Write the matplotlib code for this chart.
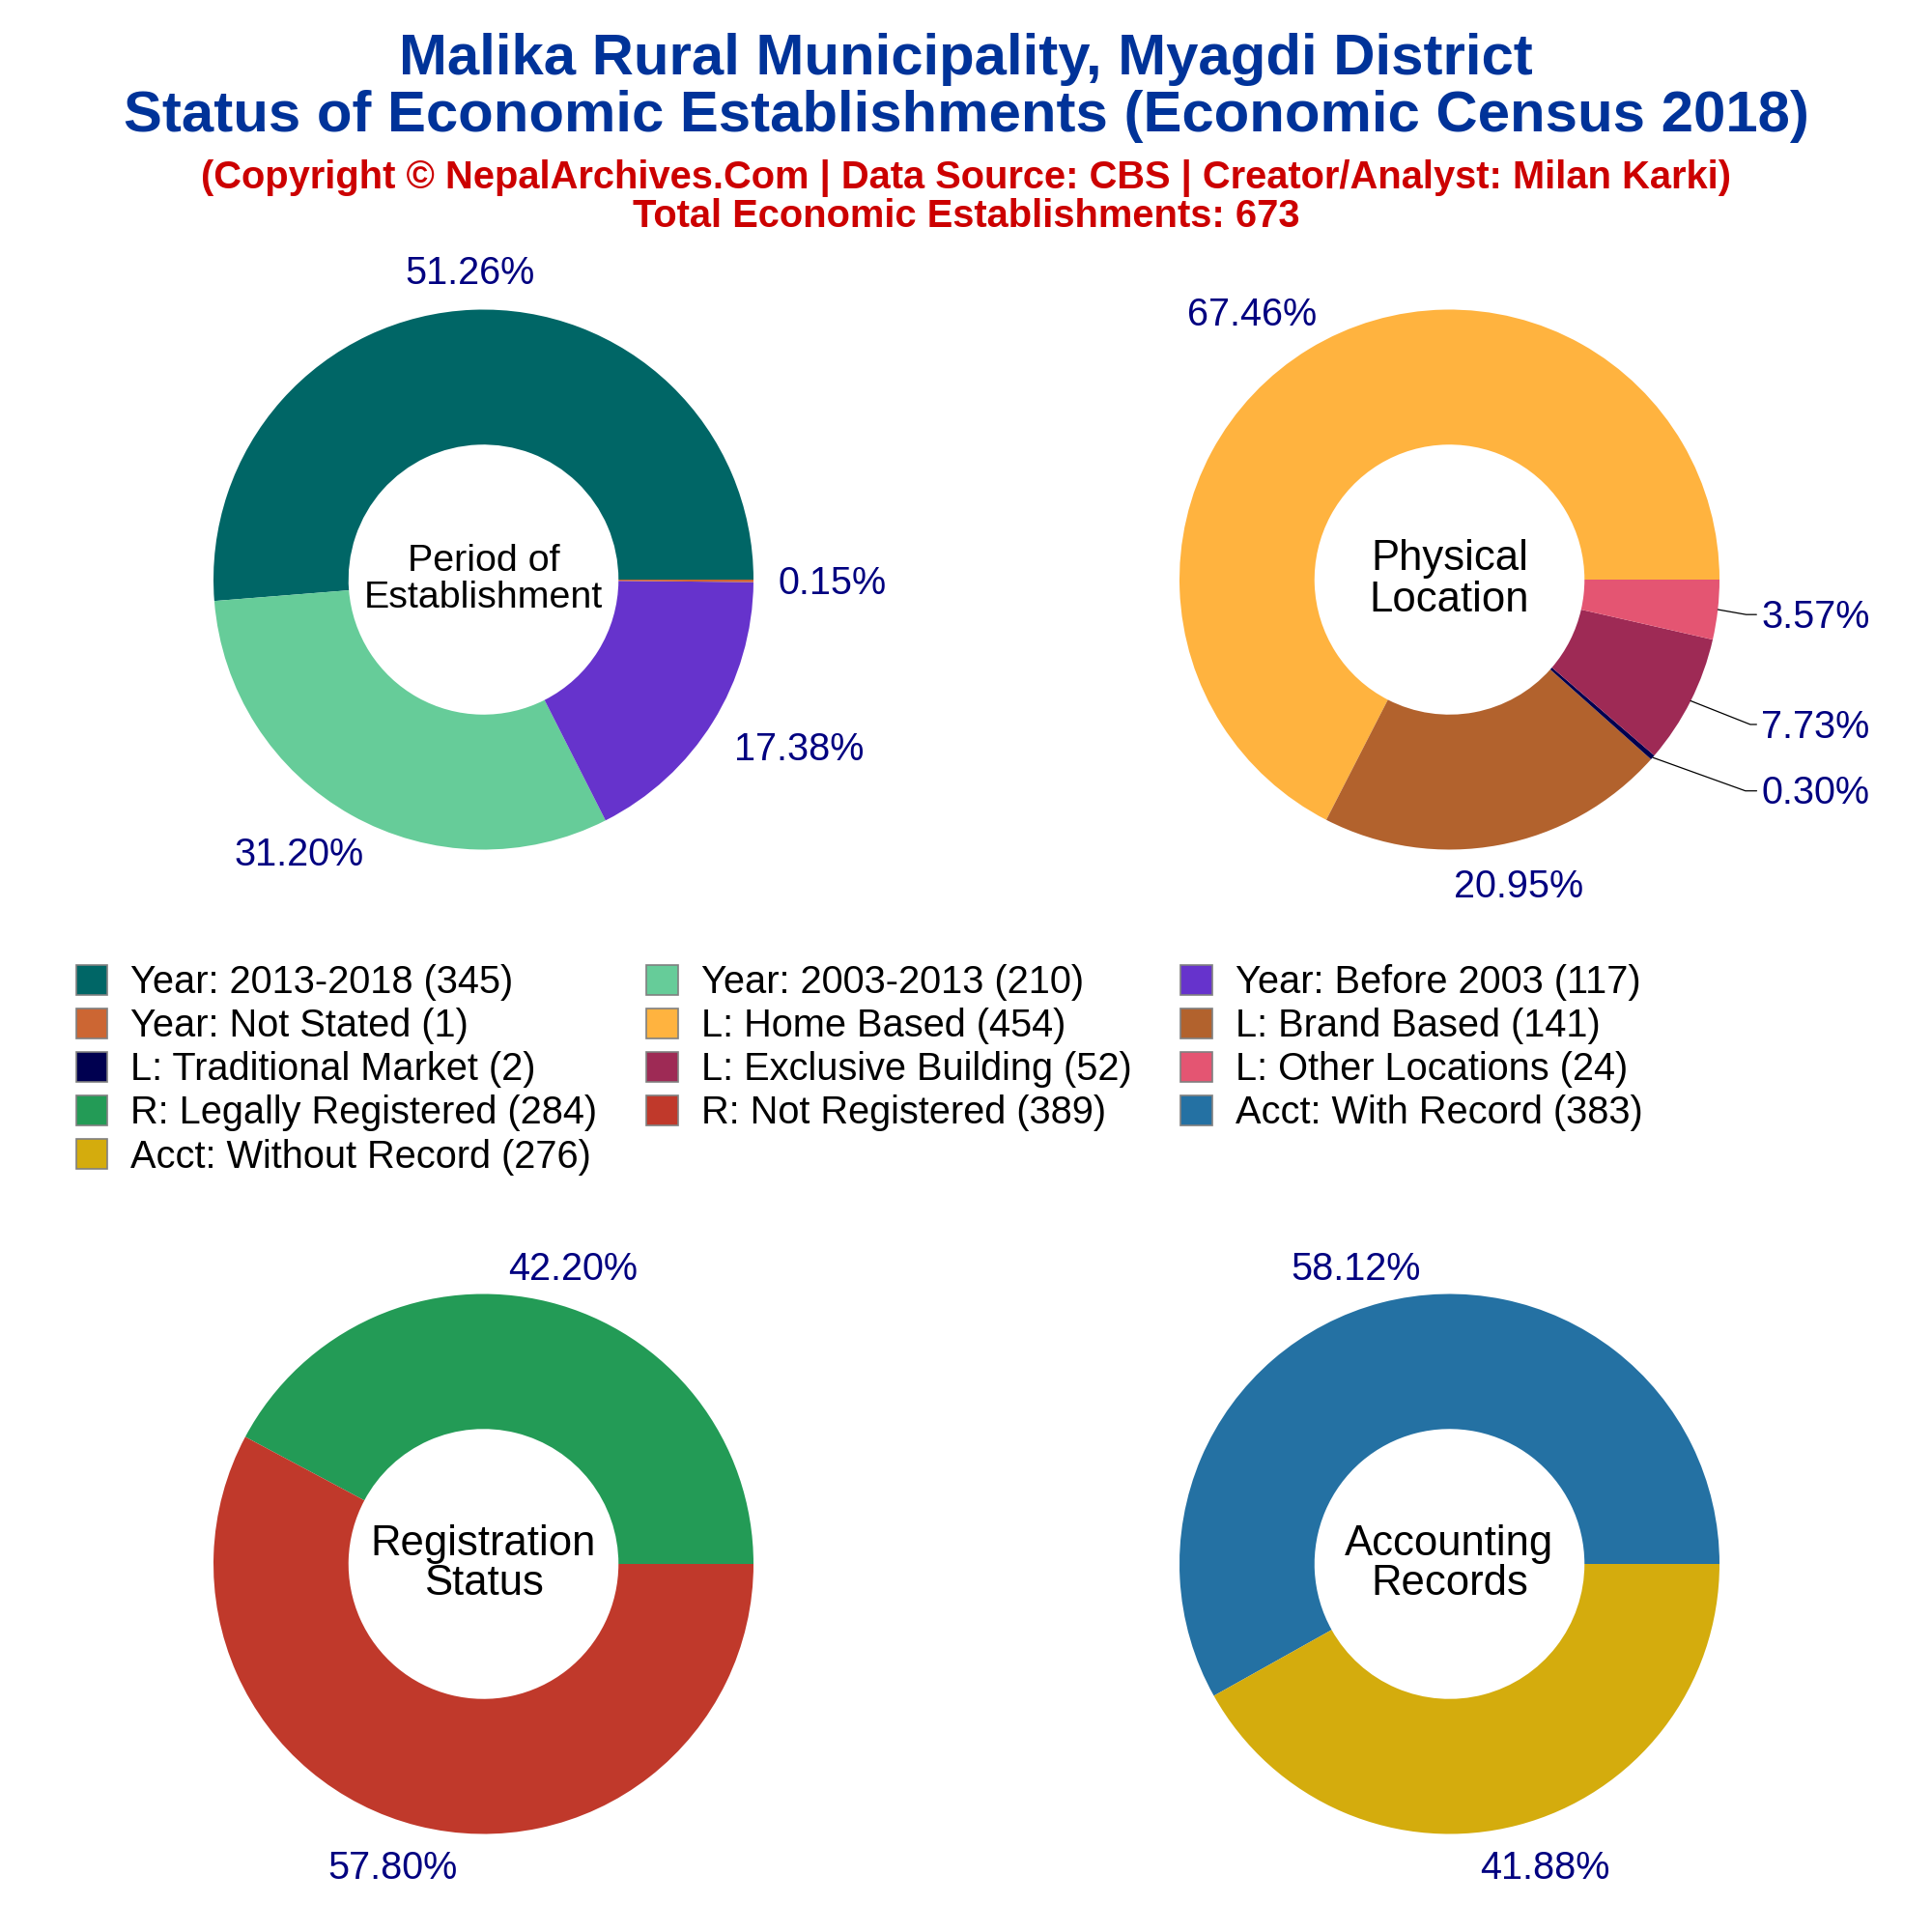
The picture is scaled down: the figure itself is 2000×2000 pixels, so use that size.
import matplotlib
matplotlib.use("Agg")
import matplotlib.pyplot as plt
from matplotlib.patches import Patch

plt.rcParams['font.family'] = ['Liberation Sans', 'DejaVu Sans']

title_text = "Malika Rural Municipality, Myagdi District\nStatus of Economic Establishments (Economic Census 2018)"
sub_text = "(Copyright © NepalArchives.Com | Data Source: CBS | Creator/Analyst: Milan Karki)\nTotal Economic Establishments: 673"

period_labels = ["Year: 2013-2018", "Year: 2003-2013", "Year: Before 2003", "Year: Not Stated"]
period_vals = [345, 210, 117, 1]
period_cols = ["#006666", "#66CC99", "#6633CC", "#CC6633"]

loc_labels = ["L: Home Based", "L: Brand Based", "L: Traditional Market", "L: Exclusive Building", "L: Other Locations"]
loc_vals = [454, 141, 2, 52, 24]
loc_cols = ["#FFB33F", "#B2622D", "#000050", "#9E2A55", "#E45572"]

reg_labels = ["R: Legally Registered", "R: Not Registered"]
reg_vals = [284, 389]
reg_cols = ["#239B56", "#C0392B"]

acct_labels = ["Acct: With Record", "Acct: Without Record"]
acct_vals = [383, 276]
acct_cols = ["#2471A3", "#D4AC0D"]

PCT_COLOR = "#000080"
PCT_SIZE = 14.25
R_PX = 279.5

fig = plt.figure(figsize=(10, 10), dpi=200)
fig.patch.set_facecolor("white")


def donut(cx, cy, vals, cols, centre, centre_size, spacing, pct_pos, leaders=None):
    # cx, cy is the centre in figure pixels from the top left
    rect = [(cx - R_PX) / 2000, 1 - (cy + R_PX) / 2000, 2 * R_PX / 2000, 2 * R_PX / 2000]
    ax = fig.add_axes(rect)
    ax.pie(vals, colors=cols, startangle=0, radius=1.0, wedgeprops=dict(width=0.5))
    ax.set_xlim(-1, 1)
    ax.set_ylim(-1, 1)
    ax.text(0, 0, centre, ha='center', va='center', fontsize=centre_size,
            color='black', linespacing=spacing)
    total = sum(vals)
    for i, (v, pos) in enumerate(zip(vals, pct_pos)):
        txt = "%.2f%%" % (100 * v / total)
        if leaders and i in leaders:
            xy, ang = leaders[i]
            # leader leaves the text at the middle of its digits, with an elbow
            ax.annotate(txt, xy=xy, xytext=pos, ha='center', va='center', fontsize=PCT_SIZE,
                        color=PCT_COLOR, annotation_clip=False,
                        arrowprops=dict(arrowstyle='-', color='black', lw=0.45, patchA=None,
                                        relpos=(0, 0.57), shrinkA=1.8, shrinkB=0,
                                        connectionstyle="angle,angleA=0,angleB=%g,rad=0" % ang))
        else:
            ax.text(pos[0], pos[1], txt, ha='center', va='center', fontsize=PCT_SIZE,
                    color=PCT_COLOR, clip_on=False)


donut(500.5, 600, period_vals, period_cols, "Period of\nEstablishment", 14.2, 1.05,
      [(-0.05, 1.133), (-0.685, -1.021), (1.169, -0.628), (1.292, -0.016)])
donut(1500.5, 600, loc_vals, loc_cols, "Physical\nLocation", 15.7, 1.04,
      [(-0.731, 0.979), (0.256, -1.139), (1.356, -0.792), (1.356, -0.546), (1.356, -0.139)],
      leaders={2: ((0.753, -0.659), -19.8), 3: ((0.893, -0.449), -21.6), 4: ((0.994, -0.111), -10)})
donut(500.5, 1619, reg_vals, reg_cols, "Registration\nStatus", 15.7, 1.01,
      [(0.333, 1.093), (-0.338, -1.126)])
donut(1500.5, 1619, acct_vals, acct_cols, "Accounting\nRecords", 15.7, 1.01,
      [(-0.347, 1.093), (0.352, -1.126)])

fig.text(0.5, 0.9545, title_text, ha='center', va='center', fontsize=21.55, fontweight='bold',
         color="#003399", linespacing=1.07)
fig.text(0.5, 0.898, sub_text, ha='center', va='center', fontsize=14.35, fontweight='bold',
         color="#CC0000", linespacing=1.03)

all_labels = period_labels + loc_labels + reg_labels + acct_labels
all_vals = period_vals + loc_vals + reg_vals + acct_vals
all_cols = period_cols + loc_cols + reg_cols + acct_cols
handles = [Patch(facecolor=c, edgecolor='gray', linewidth=0.6, label="%s (%d)" % (l, v))
           for l, v, c in zip(all_labels, all_vals, all_cols)]
# legend fills by column, the reference reads by row
order = [0, 3, 6, 9, 12, 1, 4, 7, 10, 2, 5, 8, 11]
fig.legend([handles[i] for i in order], [handles[i].get_label() for i in order],
           ncol=3, loc='upper left', bbox_to_anchor=(0.0395, 0.501), frameon=False,
           fontsize=14.3, borderpad=0, borderaxespad=0, handlelength=0.81, handleheight=0.81,
           handletextpad=0.61, columnspacing=1.28, labelspacing=0.18)

fig.savefig("out.png", dpi=200)
